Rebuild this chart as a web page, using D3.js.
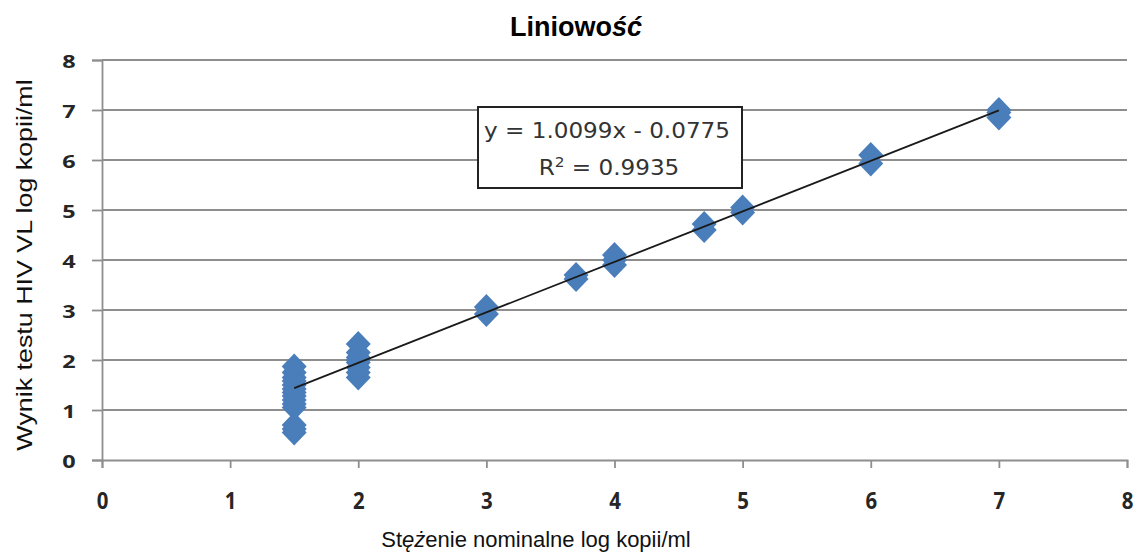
<!DOCTYPE html>
<html>
<head>
<meta charset="utf-8">
<script src="https://cdn.jsdelivr.net/npm/d3@7"></script>
<style>
  html, body { margin: 0; padding: 0; background: #fff; }
  svg { display: block; }
</style>
</head>
<body>
<svg id="chart" width="1137" height="552"></svg>
<script>
// Nominal concentration (log copies/ml) for each replicate measurement
const nominal = [
  1.5, 1.5, 1.5, 1.5, 1.5, 1.5, 1.5, 1.5, 1.5, 1.5, 1.5, 1.5, 1.5, 1.5,
  2, 2, 2, 2, 2, 2, 2, 2,
  3, 3,
  3.7, 3.7,
  4, 4, 4,
  4.7, 4.7,
  5, 5,
  6, 6,
  7, 7, 7
];
// Measured HIV VL result (log copies/ml)
const measured = [
  0.55, 0.62, 0.7, 1.05, 1.12, 1.2, 1.28, 1.35, 1.42, 1.5, 1.58, 1.65, 1.75, 1.87,
  1.65, 1.75, 1.85, 1.95, 2.0, 2.05, 2.15, 2.32,
  2.92, 3.06,
  3.62, 3.7,
  3.9, 4.0, 4.1,
  4.6, 4.72,
  4.95, 5.05,
  5.93, 6.1,
  6.85, 6.95, 7.0
];
const xTicks = [0, 1, 2, 3, 4, 5, 6, 7, 8];
const yTicks = [0, 1, 2, 3, 4, 5, 6, 7, 8];
// Linear trend line coefficients
const slope = 1.0099;
const intercept = -0.0775;
const rSquared = 0.9935;
const trendRange = [1.5, 7];

const svg = d3.select("#chart");
const x = d3.scaleLinear().domain([0, 8]).range([102, 1127]);
const y = d3.scaleLinear().domain([0, 8]).range([460, 60]);

const gridColor = "#8e8e8e";
const labelColor = "#262626";

// Horizontal gridlines
svg.append("g")
  .selectAll("line")
  .data(yTicks.filter(d => d > 0))
  .join("line")
  .attr("x1", x(0)).attr("x2", x(8))
  .attr("y1", d => y(d)).attr("y2", d => y(d))
  .attr("stroke", gridColor).attr("stroke-width", 1.8);

// Y axis
const yAxis = svg.append("g")
  .attr("transform", `translate(${x(0)},0)`)
  .call(d3.axisLeft(y).tickValues(yTicks).tickSize(10).tickPadding(0).tickFormat(d3.format("d")));
yAxis.select(".domain").attr("stroke", gridColor).attr("stroke-width", 1.8);
yAxis.selectAll(".tick line").attr("stroke", gridColor).attr("stroke-width", 1.8);
yAxis.selectAll(".tick text")
  .attr("x", null).attr("dy", null)
  .attr("text-anchor", "middle")
  .attr("transform", "translate(-33,7) scale(1.3,1)")
  .attr("font-family", "'Open Sans', sans-serif").attr("font-weight", 700)
  .attr("font-size", 18).attr("fill", labelColor);

// X axis
const xAxis = svg.append("g")
  .attr("transform", `translate(0,${y(0)})`)
  .call(d3.axisBottom(x).tickValues(xTicks).tickSize(8).tickPadding(0).tickFormat(d3.format("d")));
xAxis.select(".domain").attr("stroke", gridColor).attr("stroke-width", 1.8);
xAxis.selectAll(".tick line").attr("stroke", gridColor).attr("stroke-width", 1.8);
xAxis.selectAll(".tick text")
  .attr("y", null).attr("dy", null)
  .attr("transform", "translate(0,49) scale(0.85,1)")
  .attr("font-family", "'Open Sans', sans-serif").attr("font-weight", 700)
  .attr("font-size", 24).attr("fill", labelColor);

// Diamond marker shape: 25 px wide, 26 px tall
const diamondShape = {
  draw(context) {
    const hw = 12.5, hh = 13;
    context.moveTo(0, -hh);
    context.lineTo(hw, 0);
    context.lineTo(0, hh);
    context.lineTo(-hw, 0);
    context.closePath();
  }
};
const diamond = d3.symbol().type(diamondShape);
svg.append("g")
  .selectAll("path")
  .data(nominal.map((n, i) => [n, measured[i]]))
  .join("path")
  .attr("d", diamond)
  .attr("transform", d => `translate(${x(d[0])},${y(d[1])})`)
  .attr("fill", "#4a7ebb");

// Trend line
svg.append("line")
  .attr("x1", x(trendRange[0])).attr("y1", y(slope * trendRange[0] + intercept))
  .attr("x2", x(trendRange[1])).attr("y2", y(slope * trendRange[1] + intercept))
  .attr("stroke", "#1a1a1a").attr("stroke-width", 1.8);

// Equation box
svg.append("rect")
  .attr("x", 478).attr("y", 107).attr("width", 264).attr("height", 81)
  .attr("fill", "#fff").attr("stroke", "#222").attr("stroke-width", 2);
const eq = svg.append("text")
  .attr("x", 607).attr("y", 138)
  .attr("text-anchor", "middle")
  .attr("transform", "translate(607,0) scale(1.1,1) translate(-607,0)")
  .attr("font-family", "'DejaVu Sans', sans-serif")
  .attr("font-size", 21).attr("fill", "#333");
eq.text(`y = ${slope.toFixed(4)}x - ${Math.abs(intercept).toFixed(4)}`);
const r2 = svg.append("text")
  .attr("x", 609).attr("y", 175)
  .attr("text-anchor", "middle")
  .attr("transform", "translate(609,0) scale(1.1,1) translate(-609,0)")
  .attr("font-family", "'DejaVu Sans', sans-serif")
  .attr("font-size", 21).attr("fill", "#333");
r2.append("tspan").text("R");
r2.append("tspan").attr("dy", -8).attr("font-size", 14).text("2");
r2.append("tspan").attr("dy", 8).text(` = ${rSquared.toFixed(4)}`);

// Title
const title = svg.append("text")
  .attr("x", 576).attr("y", 36)
  .attr("text-anchor", "middle")
  .attr("font-family", "'Liberation Sans', Arial, sans-serif")
  .attr("font-weight", 700).attr("font-size", 27).attr("fill", "#000");
title.append("tspan").text("Liniowo");
title.append("tspan").attr("font-style", "italic").text("ść");

// X axis title
const xt = svg.append("text")
  .attr("x", 536).attr("y", 547)
  .attr("text-anchor", "middle")
  .attr("font-family", "'Liberation Sans', Arial, sans-serif")
  .attr("font-size", 22).attr("fill", "#111");
xt.append("tspan").text("St");
xt.append("tspan").attr("font-style", "italic").text("ęż");
xt.append("tspan").text("enie nominalne log kopii/ml");

// Y axis title
svg.append("text")
  .attr("transform", "translate(32,265) rotate(-90) scale(1.22,1)")
  .attr("text-anchor", "middle")
  .attr("font-family", "'Liberation Sans', Arial, sans-serif")
  .attr("font-size", 22).attr("fill", "#111")
  .text("Wynik testu HIV VL log kopii/ml");
</script>
</body>
</html>
